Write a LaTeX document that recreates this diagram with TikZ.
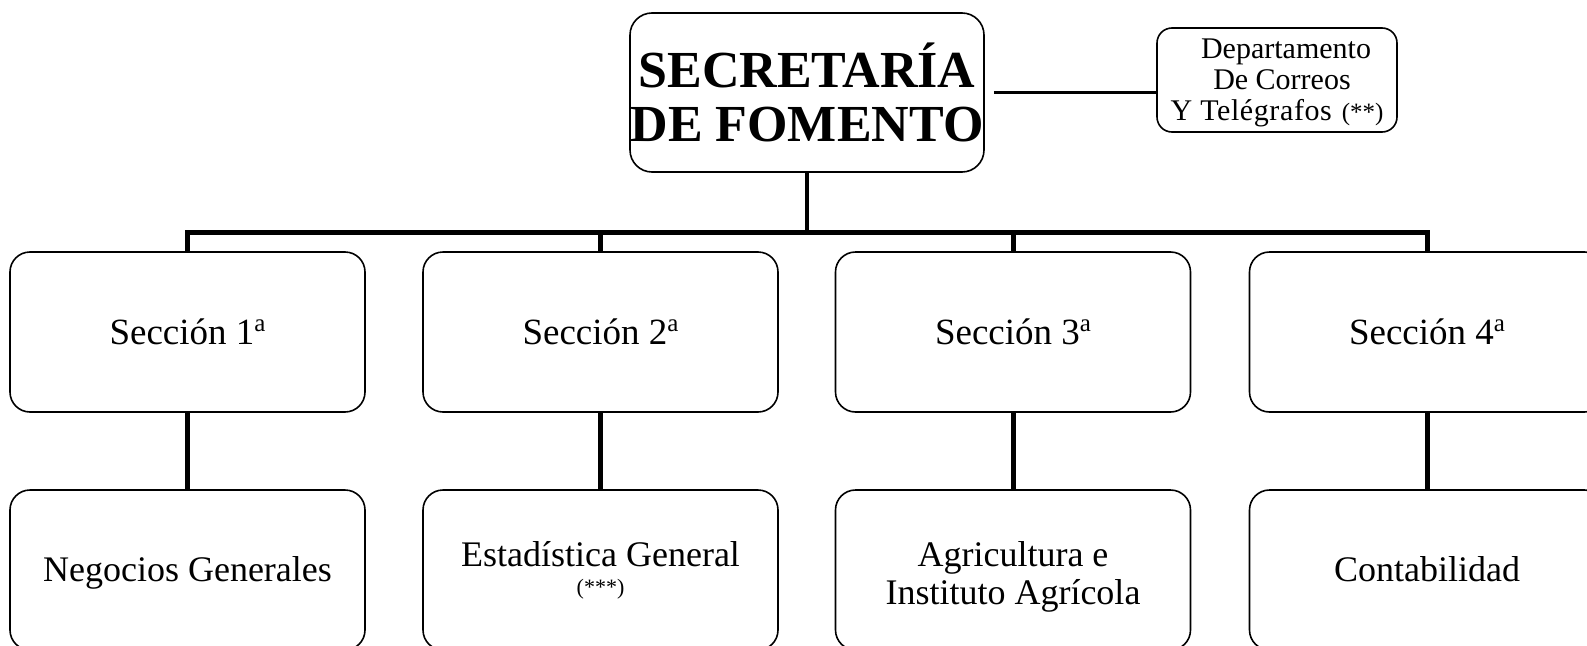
\documentclass[tikz,border=0pt]{standalone}
\usepackage{fontspec}
\setmainfont{Liberation Serif}
\newcommand{\supa}{\raisebox{13pt}{\fontsize{25}{25}\selectfont a}}
\begin{document}
\begin{tikzpicture}[x=1pt,y=-1pt,
  frame/.style={draw, line width=1.6pt, inner sep=0pt, align=center},
  box/.style={frame, rounded corners=20pt, minimum width=355pt, minimum height=160pt},
  secfont/.style={font=\fontsize{37}{40}\selectfont, text height=25pt, text depth=0pt},
  subfont/.style={font=\fontsize{36}{38}\selectfont},
  oneline/.style={text height=24pt, text depth=2pt},
  conn/.style={line width=5pt},
  trunk/.style={line width=4.5pt},
  side/.style={line width=3pt}]
\useasboundingbox (0,0) rectangle (1587,645);
\clip (0,0) rectangle (1587,645);
% top
\node[frame, rounded corners=22pt, minimum width=354pt, minimum height=159pt,
      font=\fontsize{52}{54}\selectfont\bfseries] (main) at (807,92.5) {SECRETARÍA\\DE FOMENTO};
\node[frame, rounded corners=15pt, minimum width=240pt, minimum height=104pt,
      font=\fontsize{30}{31}\selectfont] (dept) at (1277,80)
      {\rule{0pt}{24.5pt}\hspace*{18pt}Departamento\\
       \hspace*{10pt}De Correos\\
       {\addfontfeature{LetterSpace=2}Y Telégrafos}\hspace{10pt}{\fontsize{25}{25}\selectfont(**)}};
% level 1
\node[box, secfont] (s1) at (187.5,332) {Sección 1\supa};
\node[box, secfont] (s2) at (600.5,332) {Sección 2\supa};
\node[box, secfont] (s3) at (1013,332) {Sección 3\supa};
\node[box, secfont] (s4) at (1427,332) {Sección 4\supa};
% level 2
\node[box, subfont, oneline] (n1) at (187.5,570) {Negocios Generales};
\node[box, subfont] (n2) at (600.5,570) {Estadística General\\[-10pt]{\fontsize{22}{22}\selectfont(***)}};
\node[box, subfont] (n3) at (1013,570) {\rule{0pt}{39pt}Agricultura e\\Instituto Agrícola};
\node[box, subfont, oneline] (n4) at (1427,570) {Contabilidad};
% connectors
\coordinate (bar) at (807,232);
\draw[side] ([xshift=9pt]main.east) -- (main.east -| dept.west);
\draw[trunk] (main.south) -- (bar);
\draw[conn] (s1.north) -- (s1.north |- bar) -- (s4.north |- bar) -- (s4.north);
\draw[conn] (bar -| s2.north) -- (s2.north);
\draw[conn] (bar -| s3.north) -- (s3.north);
\draw[conn] (s1.south) -- (n1.north);
\draw[conn] (s2.south) -- (n2.north);
\draw[conn] (s3.south) -- (n3.north);
\draw[conn] (s4.south) -- (n4.north);
\end{tikzpicture}
\end{document}
